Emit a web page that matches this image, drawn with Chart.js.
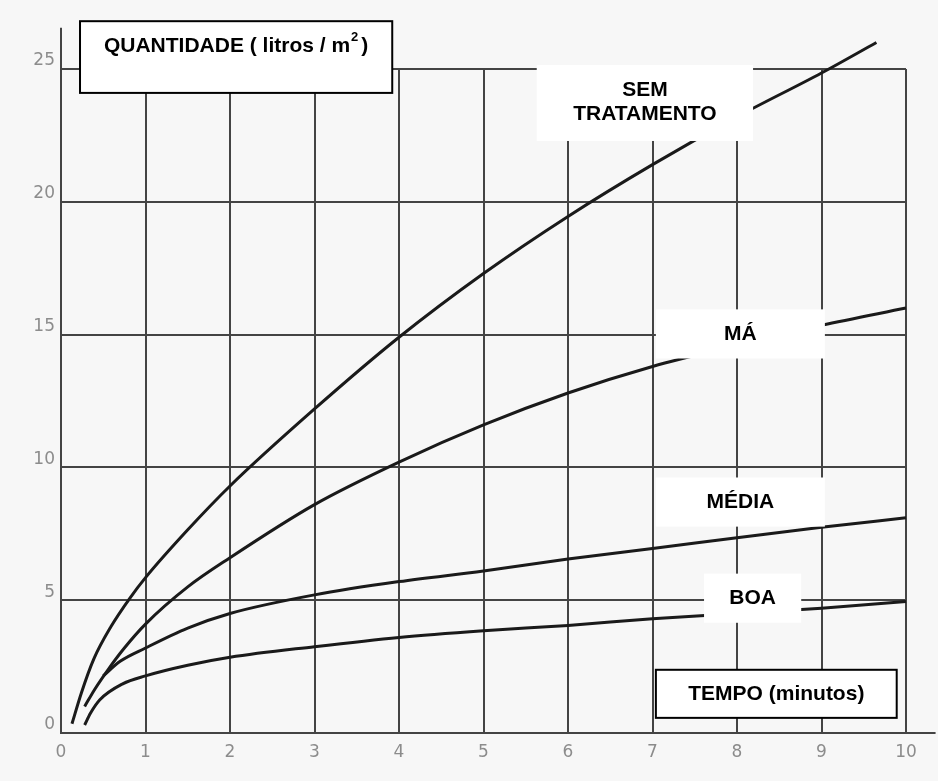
<!DOCTYPE html>
<html lang="pt">
<head>
<meta charset="utf-8">
<title>Quantidade x tempo</title>
<script src="https://cdn.jsdelivr.net/npm/chart.js@4.4.1/dist/chart.umd.min.js"></script>
<style>
  html, body { margin: 0; padding: 0; background: #f7f7f7; }
  #wrap { position: relative; width: 938px; height: 781px; }
</style>
</head>
<body>
<div id="wrap"><canvas id="chart"></canvas></div>
<script>
// tick values
const xTicks = [0, 1, 2, 3, 4, 5, 6, 7, 8, 9, 10];
const yTicks = [0, 5, 10, 15, 20, 25];

// curves (x = minutos, y = litros / m2)
const semX = [0.13, 0.24, 0.39, 0.59, 0.82, 1, 1.5, 2, 3, 4, 5, 6, 7, 8, 9, 9.65];
const semY = [0.35, 1.5, 2.8, 4.0, 5.1, 5.85, 7.65, 9.3, 12.2, 14.9, 17.3, 19.45, 21.4, 23.2, 24.85, 26.0];

const maX = [0.28, 0.4, 0.56, 0.75, 1, 1.5, 2, 3, 4, 5, 6, 7, 8, 9, 10];
const maY = [1.0, 1.65, 2.4, 3.2, 4.1, 5.5, 6.6, 8.6, 10.2, 11.6, 12.8, 13.8, 14.6, 15.35, 16.0];

const mediaX = [0.5, 0.7, 1, 1.5, 2, 3, 4, 5, 6, 7, 8, 9, 10];
const mediaY = [2.15, 2.7, 3.2, 3.95, 4.5, 5.2, 5.7, 6.1, 6.55, 6.95, 7.35, 7.75, 8.1];

const boaX = [0.28, 0.35, 0.46, 0.73, 1, 1.5, 2, 3, 4, 5, 6, 7, 8, 9, 10];
const boaY = [0.3, 0.75, 1.25, 1.85, 2.15, 2.55, 2.85, 3.25, 3.6, 3.85, 4.05, 4.3, 4.5, 4.7, 4.95];

const gridColor = "#444444";
const curveColor = "#1a1a1a";
const labelFont = 'bold 21px "Liberation Sans", Arial, sans-serif';
const supFont = 'bold 13px "Liberation Sans", Arial, sans-serif';

// white label boxes, placed in data units
const labelBoxes = [
  { lines: ["SEM", "TRATAMENTO"], x0: 5.63, x1: 8.19, y0: 25.15, y1: 22.29, border: false },
  { lines: ["MÁ"], x0: 7.04, x1: 9.04, y0: 15.95, y1: 14.1, border: false },
  { lines: ["MÉDIA"], x0: 7.04, x1: 9.04, y0: 9.62, y1: 7.77, border: false },
  { lines: ["BOA"], x0: 7.61, x1: 8.76, y0: 6.0, y1: 4.15, border: false },
  { lines: ["TEMPO (minutos)"], x0: 7.04, x1: 9.89, y0: 2.38, y1: 0.57, border: true }
];
const titleBox = { text: "QUANTIDADE ( litros / m", sup: "2", tail: ")", x0: 0.225, x1: 3.92, y0: 26.8, y1: 24.1, textY: 25.87 };

function toPoints(xs, ys) {
  return xs.map((x, i) => ({ x, y: ys[i] }));
}

function curve(label, xs, ys) {
  return {
    label,
    data: toPoints(xs, ys),
    borderColor: curveColor,
    borderWidth: 3,
    pointRadius: 0,
    fill: false,
    cubicInterpolationMode: "monotone",
    clip: false
  };
}

function drawBox(ctx, left, top, right, bottom, border) {
  ctx.fillStyle = "#ffffff";
  ctx.fillRect(left, top, right - left, bottom - top);
  if (border) {
    ctx.strokeStyle = "#000000";
    ctx.lineWidth = 2;
    ctx.strokeRect(left, top, right - left, bottom - top);
  }
}

const decorPlugin = {
  id: "decor",
  beforeDatasetsDraw(chart) {
    const { ctx, scales: { x, y } } = chart;
    ctx.save();
    ctx.strokeStyle = gridColor;
    ctx.lineWidth = 2;
    ctx.beginPath();
    // the axes run a little past the grid
    ctx.moveTo(x.getPixelForValue(0), y.getPixelForValue(25));
    ctx.lineTo(x.getPixelForValue(0), y.getPixelForValue(26.55));
    ctx.moveTo(x.getPixelForValue(10), y.getPixelForValue(0));
    ctx.lineTo(x.getPixelForValue(10.35), y.getPixelForValue(0));
    ctx.stroke();
    ctx.restore();
  },
  afterDatasetsDraw(chart) {
    const { ctx, scales: { x, y } } = chart;
    ctx.save();
    ctx.textBaseline = "middle";
    ctx.textAlign = "center";

    labelBoxes.forEach(box => {
      const left = x.getPixelForValue(box.x0);
      const right = x.getPixelForValue(box.x1);
      const top = y.getPixelForValue(box.y0);
      const bottom = y.getPixelForValue(box.y1);
      drawBox(ctx, left, top, right, bottom, box.border);

      ctx.fillStyle = "#000000";
      ctx.font = labelFont;
      const lineHeight = 24;
      const cx = (left + right) / 2;
      const cy = (top + bottom) / 2 - (box.lines.length > 1 ? 1 : 0);
      box.lines.forEach((line, i) => {
        const ly = cy + (i - (box.lines.length - 1) / 2) * lineHeight;
        ctx.fillText(line, cx, ly);
      });
    });

    // axis title box with superscript
    const t = titleBox;
    const tl = x.getPixelForValue(t.x0);
    const tr = x.getPixelForValue(t.x1);
    const tt = y.getPixelForValue(t.y0);
    const tb = y.getPixelForValue(t.y1);
    drawBox(ctx, tl, tt, tr, tb, true);

    ctx.textAlign = "left";
    ctx.fillStyle = "#000000";
    ctx.font = labelFont;
    const mainW = ctx.measureText(t.text).width;
    const tailW = ctx.measureText(t.tail).width;
    ctx.font = supFont;
    const supW = ctx.measureText(t.sup).width;
    const gap = 4;
    const total = mainW + supW + gap + tailW;
    let tx = (tl + tr) / 2 - total / 2;
    const ty = y.getPixelForValue(t.textY);
    ctx.font = labelFont;
    ctx.fillText(t.text, tx, ty);
    tx += mainW;
    ctx.font = supFont;
    ctx.fillText(t.sup, tx + 1, ty - 8);
    tx += supW + gap;
    ctx.font = labelFont;
    ctx.fillText(t.tail, tx, ty);

    ctx.restore();
  }
};

const ctx = document.getElementById("chart").getContext("2d");

new Chart(ctx, {
  type: "line",
  data: {
    datasets: [
      curve("SEM TRATAMENTO", semX, semY),
      curve("MÁ", maX, maY),
      curve("MÉDIA", mediaX, mediaY),
      curve("BOA", boaX, boaY)
    ]
  },
  options: {
    responsive: true,
    maintainAspectRatio: false,
    animation: false,
    events: [],
    layout: {
      padding: { top: 69, right: 32, left: 0, bottom: 0 }
    },
    plugins: {
      legend: { display: false },
      tooltip: { enabled: false }
    },
    scales: {
      x: {
        type: "linear",
        min: 0,
        max: 10,
        afterBuildTicks: scale => {
          scale.ticks = xTicks.map(value => ({ value }));
        },
        afterFit: scale => {
          scale.height = 48;
        },
        ticks: {
          color: "#8c8c8c",
          font: { family: '"DejaVu Sans", sans-serif', size: 17 },
          padding: 9,
          maxRotation: 0
        },
        grid: { color: gridColor, lineWidth: 2, drawTicks: false },
        border: { color: gridColor, width: 2 }
      },
      y: {
        min: 0,
        max: 25,
        afterBuildTicks: scale => {
          scale.ticks = yTicks.map(value => ({ value }));
        },
        afterFit: scale => {
          scale.width = 61;
        },
        ticks: {
          color: "#8c8c8c",
          font: { family: '"DejaVu Sans", sans-serif', size: 17 },
          padding: 6,
          labelOffset: -8
        },
        grid: { color: gridColor, lineWidth: 2, drawTicks: false },
        border: { color: gridColor, width: 2 }
      }
    }
  },
  plugins: [decorPlugin]
});
</script>
</body>
</html>
